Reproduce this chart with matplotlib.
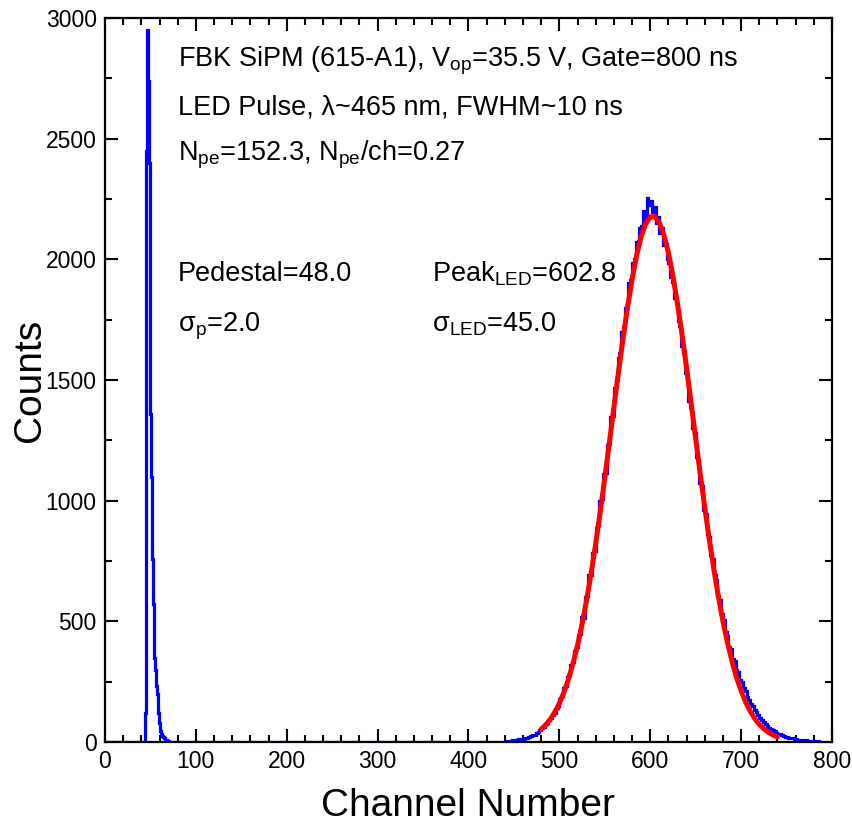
import numpy as np
import matplotlib
matplotlib.use("Agg")
import matplotlib.pyplot as plt
from matplotlib.ticker import MultipleLocator

plt.rcParams['font.family'] = ['Liberation Sans', 'DejaVu Sans']
plt.rcParams['mathtext.fontset'] = 'custom'
plt.rcParams['mathtext.rm'] = 'Liberation Sans'
plt.rcParams['mathtext.it'] = 'Liberation Sans:italic'
plt.rcParams['mathtext.bf'] = 'Liberation Sans:bold'

# ---- data ----
# pedestal histogram, 1-channel bins starting at channel 40
ped_start = 40
ped_counts = [0, 0, 0, 0, 120, 2450, 2950, 2740, 2400, 1900,
              1360, 1100, 760, 570, 350, 300, 230, 200, 120, 80,
              60, 45, 35, 25, 20, 15, 10, 8, 5, 3, 2, 1, 0]

# LED histogram, 2-channel bins starting at channel 440
led_start = 440
led_binw = 2
led_counts = [
    2, 3, 4, 6, 7, 6, 9, 11, 9, 13,
    14, 17, 16, 22, 25, 30, 31, 38, 43, 49,
    57, 62, 73, 78, 91, 98, 113, 121, 139, 150,
    180, 190, 222, 230, 268, 278, 320, 330, 378, 392,
    440, 448, 520, 515, 600, 605, 690, 690, 785, 790,
    885, 900, 1000, 1005, 1110, 1115, 1230, 1235, 1345, 1350,
    1465, 1500, 1590, 1610, 1700, 1720, 1800, 1825, 1900, 1915,
    1985, 2000, 2070, 2075, 2130, 2140, 2200, 2170, 2255, 2225,
    2240, 2195, 2215, 2150, 2175, 2110, 2130, 2060, 2065, 2000,
    1985, 1925, 1905, 1840, 1820, 1745, 1725, 1640, 1620, 1530,
    1495, 1415, 1390, 1300, 1280, 1180, 1160, 1075, 1060, 960,
    945, 860, 850, 775, 760, 690, 670, 605, 590, 530,
    505, 455, 440, 395, 385, 345, 335, 300, 290, 255,
    248, 222, 210, 188, 176, 158, 150, 132, 125, 110,
    101, 90, 82, 74, 68, 60, 54, 49, 44, 39,
    35, 32, 28, 26, 22, 21, 18, 16, 15, 13,
    12, 10, 10, 8, 7, 7, 6, 5, 5, 4,
    4, 3, 3, 2, 2]

# fit curve, every 5 channels
fit_x = list(range(480, 745, 5))
fit_y = [53, 71, 94, 124, 160, 206, 260, 325, 401, 489,
         589, 701, 823, 955, 1095, 1240, 1387, 1532, 1672, 1801,
         1917, 2016, 2094, 2148, 2176, 2177, 2152, 2101, 2027, 1930,
         1816, 1688, 1549, 1404, 1258, 1112, 972, 839, 715, 602,
         500, 411, 334, 267, 212, 165, 128, 97, 73, 55,
         40, 29, 21]

xticks = [0, 100, 200, 300, 400, 500, 600, 700, 800]
yticks = [0, 500, 1000, 1500, 2000, 2500, 3000]

info_lines = ["FBK SiPM (615-A1), V$_{\\mathrm{op}}$=35.5 V, Gate=800 ns",
              "LED Pulse, λ~465 nm, FWHM~10 ns",
              "N$_{\\mathrm{pe}}$=152.3, N$_{\\mathrm{pe}}$/ch=0.27"]
ped_lines = ["Pedestal=48.0", "σ$_{\\mathrm{p}}$=2.0"]
led_lines = ["Peak$_{\\mathrm{LED}}$=602.8", "σ$_{\\mathrm{LED}}$=45.0"]

# ---- figure ----
fig = plt.figure(figsize=(8.53, 8.23), dpi=100)
ax = fig.add_axes([105/853, 1-742/823, 727/853, 724/823])

ped_edges = np.arange(ped_start, ped_start + len(ped_counts) + 1)
led_edges = np.arange(led_start, led_start + led_binw*len(led_counts) + 1, led_binw)
edges = np.concatenate([[0], ped_edges, led_edges])
values = np.concatenate([[0], ped_counts, [0], led_counts])
ax.stairs(values, edges, color='#0000FF', linewidth=2.3, baseline=0, zorder=2)

ax.plot(fit_x, fit_y, color='#FF0000', linewidth=3.6, zorder=3,
        solid_capstyle='round')

ax.set_xlim(0, 800)
ax.set_ylim(0, 3000)
ax.set_xticks(xticks)
ax.set_yticks(yticks)
ax.xaxis.set_minor_locator(MultipleLocator(20))
ax.yaxis.set_minor_locator(MultipleLocator(250))
ax.tick_params(which='both', direction='in', top=True, right=True,
               width=1.5, labelsize=16.5, colors='black')
ax.tick_params(which='major', length=9.5, pad=6)
ax.tick_params(which='minor', length=5)
for s in ax.spines.values():
    s.set_linewidth(1.6)

ax.set_xlabel("Channel Number", fontsize=28)
ax.set_ylabel("Counts", fontsize=28)
ax.xaxis.set_label_coords(0.5, -0.064)
ax.yaxis.set_label_coords(-0.078, 0.5)

fs = 19.5
for txt, yv in zip(info_lines, [2801, 2602, 2408]):
    ax.text(80, yv, txt, fontsize=fs, va='baseline', ha='left')
for txt, yv in zip(ped_lines, [1910, 1703]):
    ax.text(80, yv, txt, fontsize=fs, va='baseline', ha='left')
for txt, yv in zip(led_lines, [1910, 1703]):
    ax.text(360, yv, txt, fontsize=fs, va='baseline', ha='left')

fig.savefig("out.png", dpi=100)
